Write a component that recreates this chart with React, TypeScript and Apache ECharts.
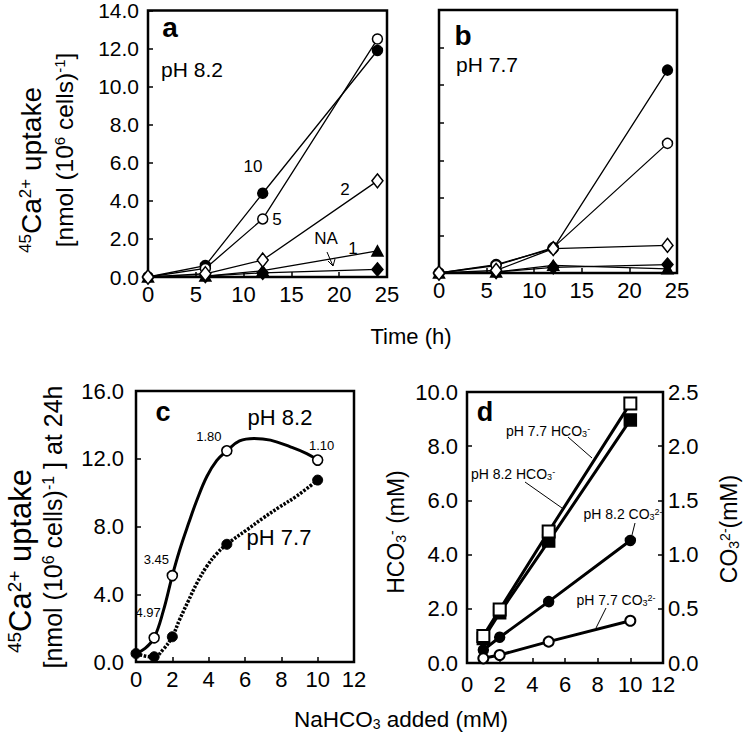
import React, { useEffect, useRef } from 'react';
import * as echarts from 'echarts';

const FONT = '"Liberation Sans", Arial, Helvetica, sans-serif';

// ---------- Panels a & b: time course of 45Ca2+ uptake ----------
const timeHours = [0, 6, 12, 24];
const seriesNamesAB = ['10', '5', '2', '1', 'NA'];
// pH 8.2 (panel a)
const a10 = [0, 0.6, 4.4, 11.9];
const a5 = [0, 0.45, 3.05, 12.5];
const a2 = [0, 0.17, 0.89, 5.05];
const a1 = [0, 0.05, 0.33, 1.37];
const aNA = [0, 0.05, 0.22, 0.4];
// pH 7.7 (panel b)
const b10 = [0, 0.45, 1.3, 10.8];
const b5 = [0, 0.4, 1.35, 6.9];
const b2 = [0, 0.14, 1.3, 1.47];
const b1 = [0, 0.05, 0.41, 0.22];
const bNA = [0, 0.05, 0.3, 0.45];

// ---------- Panel c: uptake at 24 h vs NaHCO3 added ----------
const c82X = [1, 2, 5, 10];
const c82Y = [1.43, 5.1, 12.47, 11.92];
const c77X = [0, 1, 2, 5, 10];
const c77Y = [0.5, 0.31, 1.49, 6.95, 10.74];
const cRatioLabels = ['4.97', '3.45', '1.80', '1.10'];
// fitted curves
const cFit82X = [0, 0.5, 1, 1.5, 2, 2.4, 2.9, 3.35, 3.9, 4.45, 5, 5.7, 6.5, 7.4, 8.5, 9.4, 10];
const cFit82Y = [0.5, 0.8, 1.43, 3.0, 5.1, 6.6, 8.2, 9.55, 10.95, 11.9, 12.47, 13.05, 13.2, 13.1, 12.7, 12.3, 11.92];
const cFit77X = [0, 0.5, 1, 1.5, 2, 2.4, 2.9, 3.35, 3.9, 4.45, 5, 6.1, 7, 7.9, 8.85, 10];
const cFit77Y = [0.5, 0.35, 0.3, 0.75, 1.5, 2.5, 3.65, 4.65, 5.65, 6.4, 6.95, 7.8, 8.5, 9.15, 9.8, 10.74];

// ---------- Panel d: HCO3- and CO3 2- concentrations ----------
const dX = [1, 2, 5, 10];
const d77HCO3 = [1.0, 1.97, 4.85, 9.58];
const d82HCO3 = [0.9, 1.85, 4.5, 8.97];
const d82CO3 = [0.12, 0.237, 0.566, 1.13];
const d77CO3 = [0.043, 0.074, 0.197, 0.39];

const pairs = (xs: number[], ys: number[]) => xs.map((x, i) => [x, ys[i]]);

const supRich = (size: number) => ({
  sup: { fontSize: size, fontFamily: FONT, fill: '#000', verticalAlign: 'top' },
  sub: { fontSize: size, fontFamily: FONT, fill: '#000', verticalAlign: 'bottom' },
});

function lineSeries(
  name: string, data: number[][], xi: number, yi: number, symbol: string,
  filled: boolean, size: any, lw: number, bw: number, z = 3,
) {
  return {
    type: 'line', name, data, xAxisIndex: xi, yAxisIndex: yi,
    symbol, symbolSize: size, showAllSymbol: true, silent: true, z,
    lineStyle: { color: '#000', width: lw },
    itemStyle: { color: filled ? '#000' : '#fff', borderColor: '#000', borderWidth: bw, opacity: 1 },
    emphasis: { disabled: true },
  };
}

function axisBase(fontSize: number, margin: number, showLabel = true) {
  return {
    axisLine: { show: false },
    axisTick: { show: true, inside: true, length: 5, lineStyle: { color: '#000', width: 1.5 } },
    splitLine: { show: false },
    axisLabel: {
      show: showLabel, color: '#000', fontFamily: FONT, fontSize, margin,
      showMinLabel: true, showMaxLabel: true,
    },
  };
}

function txt(text: string, x: number, y: number, fontSize: number, extra: any = {}) {
  const { rotation, fontWeight, rich, align, verticalAlign } = extra;
  return {
    type: 'text', x, y, rotation: rotation || 0, z: 100,
    style: {
      text, fontSize, fontFamily: FONT, fill: '#000', fontWeight: fontWeight || 'normal',
      align: align || 'center', verticalAlign: verticalAlign || 'middle', rich: rich || {},
    },
  };
}

function ln(x1: number, y1: number, x2: number, y2: number, w = 1) {
  return { type: 'line', z: 100, shape: { x1, y1, x2, y2 }, style: { stroke: '#000', lineWidth: w } };
}

function buildOption() {
  const symAB: any[] = [
    ['circle', true, 10],
    ['circle', false, 10],
    ['diamond', false, [11, 14]],
    ['triangle', true, [11, 10]],
    ['diamond', true, [11, 13]],
  ];
  const aData = [a10, a5, a2, a1, aNA];
  const bData = [b10, b5, b2, b1, bNA];
  const series: any[] = [];
  seriesNamesAB.forEach((n, i) => {
    const [sym, filled, size] = symAB[i];
    series.push(lineSeries('a ' + n, pairs(timeHours, aData[i]), 0, 0, sym, filled, size, 1.3, 1.5, filled ? 3 : 4));
  });
  seriesNamesAB.forEach((n, i) => {
    const [sym, filled, size] = symAB[i];
    series.push(lineSeries('b ' + n, pairs(timeHours, bData[i]), 1, 1, sym, filled, size, 1.3, 1.5, filled ? 3 : 4));
  });

  // panel c
  const ratioOffsets = [[-6, -25], [-16, -16], [-18, -14], [4, -15]];
  series.push({
    type: 'line', name: 'pH 8.2 fit', data: pairs(cFit82X, cFit82Y), xAxisIndex: 2, yAxisIndex: 2,
    smooth: 0.4, showSymbol: false, silent: true, lineStyle: { color: '#000', width: 3 }, z: 2,
  });
  series.push({
    type: 'line', name: 'pH 7.7 fit', data: pairs(cFit77X, cFit77Y), xAxisIndex: 2, yAxisIndex: 2,
    smooth: 0.4, showSymbol: false, silent: true, lineStyle: { color: '#000', width: 3.5, type: [2.5, 1.5] }, z: 2,
  });
  series.push({
    type: 'scatter', name: 'pH 7.7', data: pairs(c77X, c77Y), xAxisIndex: 2, yAxisIndex: 2,
    symbol: 'circle', symbolSize: 10, silent: true, z: 4,
    itemStyle: { color: '#000', borderColor: '#000', borderWidth: 1, opacity: 1 },
  });
  series.push({
    type: 'scatter', name: 'pH 8.2', xAxisIndex: 2, yAxisIndex: 2,
    data: c82X.map((x, i) => ({
      value: [x, c82Y[i]],
      label: {
        show: true, position: 'inside', offset: ratioOffsets[i], formatter: cRatioLabels[i],
        color: '#000', fontFamily: FONT, fontSize: 13, opacity: 1,
      },
    })),
    symbol: 'circle', symbolSize: 10, silent: true, z: 5,
    itemStyle: { color: '#fff', borderColor: '#000', borderWidth: 1.6, opacity: 1 },
  });

  // panel d
  series.push(lineSeries('pH 8.2 HCO3-', pairs(dX, d82HCO3), 3, 3, 'rect', true, 12, 3, 1.5, 3));
  series.push(lineSeries('pH 7.7 HCO3-', pairs(dX, d77HCO3), 3, 3, 'rect', false, 12, 3, 2, 4));
  series.push(lineSeries('pH 8.2 CO3 2-', pairs(dX, d82CO3), 3, 4, 'circle', true, 10, 3, 1.5, 3));
  series.push(lineSeries('pH 7.7 CO3 2-', pairs(dX, d77CO3), 3, 4, 'circle', false, 10, 3, 2, 4));

  const gridStyle = { show: true, borderColor: '#000', borderWidth: 2.5, backgroundColor: 'transparent' };
  const fmt1 = (v: number) => v.toFixed(1);

  const graphic: any[] = [
    // panel letters
    txt('a', 170, 27, 28, { fontWeight: 'bold' }),
    txt('b', 463, 35, 28, { fontWeight: 'bold' }),
    txt('c', 163, 412, 27, { fontWeight: 'bold' }),
    txt('d', 485, 412, 27, { fontWeight: 'bold' }),
    // pH labels
    txt('pH 8.2', 192, 69, 21),
    txt('pH 7.7', 487, 64, 21),
    txt('pH 8.2', 280, 417, 22),
    txt('pH 7.7', 279, 537, 22),
    // concentration labels panel a
    txt('10', 253, 166, 17),
    txt('5', 277, 219, 17),
    txt('2', 345, 189, 17),
    txt('NA', 326, 238, 17),
    txt('1', 353, 248, 17),
    ln(327, 252, 333, 266, 1),
    { type: 'polyline', z: 100, shape: { points: [[328, 261], [333, 266], [335, 259]] }, style: { stroke: '#000', lineWidth: 1, fill: 'none' } },
    // panel d annotations
    txt('pH 7.7 HCO{sub|3}{sup|-}', 548, 431, 14, { rich: supRich(9) }),
    ln(568, 437, 592, 458),
    txt('pH 8.2 HCO{sub|3}{sup|-}', 513, 474, 14, { rich: supRich(9) }),
    ln(525, 482, 562, 508),
    txt('pH 8.2 CO{sub|3}{sup|2-}', 623, 514, 14, { rich: supRich(9) }),
    ln(635, 523, 632, 535),
    txt('pH 7.7 CO{sub|3}{sup|2-}', 616, 600, 14, { rich: supRich(9) }),
    ln(606, 608, 596, 628),
    // axis titles
    txt('{sup|45}Ca{sup|2+} uptake', 31, 170, 28, { rotation: Math.PI / 2, rich: supRich(17) }),
    txt('[nmol (10{sup|6} cells){sup|-1}]', 64, 150, 24.5, { rotation: Math.PI / 2, rich: supRich(15) }),
    txt('Time (h)', 411, 336, 22),
    txt('{sup|45}Ca{sup|2+} uptake', 20, 561, 31, { rotation: Math.PI / 2, rich: supRich(19) }),
    txt('[nmol (10{sup|6} cells){sup|-1} ] at 24h', 53, 527, 25, { rotation: Math.PI / 2, rich: supRich(16) }),
    txt('HCO{sub|3}{sup|-} (mM)', 396, 532, 23, { rotation: Math.PI / 2, rich: supRich(14) }),
    txt('CO{sub|3}{sup|2-}(mM)', 729, 529, 23, { rotation: Math.PI / 2, rich: supRich(14) }),
    txt('NaHCO{sub|3} added (mM)', 401, 719, 22.5, { rich: supRich(14) }),
  ];

  return {
    animation: false,
    backgroundColor: '#fff',
    grid: [
      { left: 148, top: 9, width: 239, height: 268, ...gridStyle },
      { left: 439, top: 10, width: 238, height: 263, ...gridStyle },
      { left: 136, top: 391, width: 218, height: 271, ...gridStyle },
      { left: 467, top: 392, width: 196, height: 271, ...gridStyle },
    ],
    xAxis: [
      { type: 'value', gridIndex: 0, min: 0, max: 25, interval: 5, ...axisBase(22, 6) },
      { type: 'value', gridIndex: 1, min: 0, max: 25, interval: 5, ...axisBase(22, 6) },
      { type: 'value', gridIndex: 2, min: 0, max: 12, interval: 2, ...axisBase(22, 6) },
      { type: 'value', gridIndex: 3, min: 0, max: 12, interval: 2, ...axisBase(22, 10) },
    ],
    yAxis: [
      { type: 'value', gridIndex: 0, min: 0, max: 14, interval: 2, ...axisBase(21, 9), axisLabel: { ...axisBase(21, 9).axisLabel, formatter: fmt1 } },
      { type: 'value', gridIndex: 1, min: 0, max: 14, interval: 2, ...axisBase(21, 9, false) },
      { type: 'value', gridIndex: 2, min: 0, max: 16, interval: 4, ...axisBase(22, 12), axisLabel: { ...axisBase(22, 12).axisLabel, formatter: fmt1 } },
      { type: 'value', gridIndex: 3, min: 0, max: 10, interval: 2, position: 'left', ...axisBase(22, 9), axisLabel: { ...axisBase(22, 9).axisLabel, formatter: fmt1 } },
      { type: 'value', gridIndex: 3, min: 0, max: 2.5, interval: 0.5, position: 'right', ...axisBase(22, 5), axisLabel: { ...axisBase(22, 5).axisLabel, formatter: fmt1 } },
    ],
    series,
    graphic,
  };
}

export default function App() {
  const ref = useRef<HTMLDivElement>(null);
  useEffect(() => {
    if (!ref.current) return;
    const chart = echarts.init(ref.current, null, { renderer: 'svg' });
    chart.setOption(buildOption() as any);
    return () => chart.dispose();
  }, []);
  return (
    <div
      ref={ref}
      style={{ position: 'absolute', left: 0, top: 0, width: 744, height: 733, background: '#fff' }}
    />
  );
}
